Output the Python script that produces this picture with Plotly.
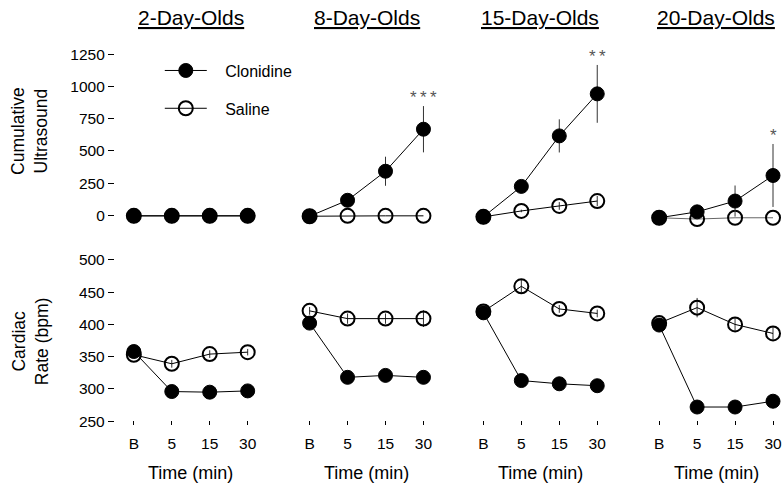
import plotly.graph_objects as go

W, H = 783, 487

times = ["B", "5", "15", "30"]
ages = ["2-Day-Olds", "8-Day-Olds", "15-Day-Olds", "20-Day-Olds"]

# Cumulative ultrasound (top row)
us_clon = [[-5, -5, -5, -5], [-8, 116, 342, 669], [-13, 224, 617, 944], [-20, 26, 110, 309]]
us_clon_err = [[0, 0, 0, 0], [0, 10, 113, 180], [0, 12, 129, 225], [0, 10, 121, 245]]
us_sal = [[-5, -5, -5, -5], [-8, -5, -5, -5], [-13, 33, 72, 110], [-20, -30, -20, -20]]
us_sal_err = [[0, 0, 0, 0], [0, 0, 0, 0], [0, 10, 30, 40], [0, 0, 0, 0]]
sig_labels = ["", "*\u2009*\u2009*", "*\u2009*", "*"]

# Cardiac rate (bottom row)
hr_clon = [[358, 296, 295, 297], [402, 318, 321, 318], [418, 313, 308, 305], [399, 272, 272, 281]]
hr_clon_err = [[5, 5, 5, 5], [6, 5, 5, 5], [5, 5, 5, 5], [6, 5, 5, 5]]
hr_sal = [[353, 339, 354, 357], [421, 409, 409, 409], [420, 459, 424, 417], [402, 426, 400, 386]]
hr_sal_err = [[5, 6, 6, 5], [6, 8, 8, 13], [5, 10, 6, 6], [6, 15, 10, 10]]

us_ticks = [0, 250, 500, 750, 1000, 1250]
hr_ticks = [250, 300, 350, 400, 450, 500]

FONT = "Liberation Sans, Arial, Helvetica, sans-serif"
PAD = "\u00a0\u00a0\u00a0"

def px(x):
    return x / W

def py(y):
    return 1 - y / H

b_px = [134, 310, 484, 660]
step = 38.0
xr = [-0.5, 3.2]

top_range = [-150, 1300]
bot_range = [240, 520]
top_dom = [py(234.4), py(46.5)]
bot_dom = [py(429.2), py(247)]

fig = go.Figure()

for i in range(4):
    xt = "x" if i == 0 else f"x{i+1}"
    yt = "y" if i == 0 else f"y{i+1}"
    xb = f"x{i+5}"
    yb = f"y{i+5}"
    sal_line = "#666" if i == 3 else "black"
    # top: saline then clonidine
    fig.add_trace(go.Scatter(
        x=times, y=us_sal[i], xaxis=xt, yaxis=yt, mode="lines+markers",
        name=PAD + "Saline", legendgroup="sal", legendrank=2, showlegend=(i == 0),
        line=dict(color=sal_line, width=1),
        marker=dict(symbol="circle-open", size=14, color="black", line=dict(width=2, color="black")),
        error_y=dict(type="data", array=us_sal_err[i], visible=True, thickness=1, width=0, color="#333"),
        cliponaxis=False,
    ))
    fig.add_trace(go.Scatter(
        x=times, y=us_clon[i], xaxis=xt, yaxis=yt, mode="lines+markers",
        name=PAD + "Clonidine", legendgroup="clon", legendrank=1, showlegend=(i == 0),
        line=dict(color="black", width=1),
        marker=dict(symbol="circle", size=14, color="black", line=dict(width=1, color="black")),
        error_y=dict(type="data", array=us_clon_err[i], visible=True, thickness=1, width=0, color="#333"),
        cliponaxis=False,
    ))
    # bottom
    fig.add_trace(go.Scatter(
        x=times, y=hr_sal[i], xaxis=xb, yaxis=yb, mode="lines+markers",
        name="Saline", legendgroup="sal", showlegend=False,
        line=dict(color="black", width=1),
        marker=dict(symbol="circle-open", size=14, color="black", line=dict(width=2, color="black")),
        error_y=dict(type="data", array=hr_sal_err[i], visible=True, thickness=1, width=0, color="#333"),
        cliponaxis=False,
    ))
    fig.add_trace(go.Scatter(
        x=times, y=hr_clon[i], xaxis=xb, yaxis=yb, mode="lines+markers",
        name="Clonidine", legendgroup="clon", showlegend=False,
        line=dict(color="black", width=1),
        marker=dict(symbol="circle", size=14, color="black", line=dict(width=1, color="black")),
        error_y=dict(type="data", array=hr_clon_err[i], visible=True, thickness=1, width=0, color="#333"),
        cliponaxis=False,
    ))

    dom = [px(b_px[i] - 0.5 * step), px(b_px[i] + 3.2 * step)]
    common_x = dict(domain=dom, range=xr, type="category", categoryorder="array",
                    categoryarray=times, showgrid=False, zeroline=False, showline=False)
    key_t = "xaxis" if i == 0 else f"xaxis{i+1}"
    fig.layout[key_t] = dict(common_x, anchor=yt, showticklabels=False, ticks="")
    fig.layout[f"xaxis{i+5}"] = dict(
        common_x, anchor="free", position=py(421.5), ticks="outside", ticklen=4,
        tickwidth=1, tickcolor="black", showticklabels=True, ticklabelstandoff=5,
        tickfont=dict(family=FONT, size=15.5, color="black"))

    ykey_t = "yaxis" if i == 0 else f"yaxis{i+1}"
    common_y = dict(showgrid=False, zeroline=False, showline=False)
    if i == 0:
        fig.layout[ykey_t] = dict(common_y, domain=top_dom, range=top_range, anchor="free",
                                  position=px(114), tickvals=us_ticks, ticks="outside",
                                  ticklen=6, tickwidth=1, tickcolor="black",
                                  tickfont=dict(family=FONT, size=15.5, color="black"))
        fig.layout[f"yaxis{i+5}"] = dict(common_y, domain=bot_dom, range=bot_range, anchor="free",
                                         position=px(114), tickvals=hr_ticks, ticks="outside",
                                         ticklen=6, tickwidth=1, tickcolor="black",
                                         tickfont=dict(family=FONT, size=15.5, color="black"))
    else:
        fig.layout[ykey_t] = dict(common_y, domain=top_dom, range=top_range, anchor=xt,
                                  showticklabels=False, ticks="")
        fig.layout[f"yaxis{i+5}"] = dict(common_y, domain=bot_dom, range=bot_range, anchor=xb,
                                         showticklabels=False, ticks="")

    center = b_px[i] + 1.5 * step
    fig.add_annotation(text=f"<u>{ages[i]}</u>", x=px(center), y=py(16), xref="paper", yref="paper",
                       showarrow=False, xanchor="center", yanchor="middle",
                       font=dict(family=FONT, size=21, color="black"))
    fig.add_annotation(text="Time (min)", x=px(center), y=py(475), xref="paper", yref="paper",
                       showarrow=False, xanchor="center", yanchor="middle",
                       font=dict(family=FONT, size=18, color="black"))
    if sig_labels[i]:
        fig.add_annotation(text=sig_labels[i], x=times.index("30"),
                           y=us_clon[i][3] + us_clon_err[i][3],
                           xref=xt, yref=yt, showarrow=False, xanchor="center", yanchor="bottom",
                           yshift=-3, font=dict(family=FONT, size=17, color="#555"))

fig.add_annotation(text="Cumulative<br>Ultrasound", x=px(30), y=py(130), xref="paper", yref="paper",
                   showarrow=False, textangle=-90, xanchor="center", yanchor="middle",
                   font=dict(family=FONT, size=17.5, color="black"))
fig.add_annotation(text="Cardiac<br>Rate (bpm)", x=px(30), y=py(342), xref="paper", yref="paper",
                   showarrow=False, textangle=-90, xanchor="center", yanchor="middle",
                   font=dict(family=FONT, size=17.5, color="black"))

fig.update_layout(
    width=W, height=H, margin=dict(l=0, r=0, t=0, b=0),
    paper_bgcolor="white", plot_bgcolor="white",
    showlegend=True,
    legend=dict(x=px(160), y=py(52), xanchor="left", yanchor="top", bgcolor="rgba(0,0,0,0)",
                tracegroupgap=14, itemwidth=42,
                font=dict(family=FONT, size=16, color="black")),
)

fig.write_html("out.html", config={"displayModeBar": False},
               post_script="document.body.style.margin='0';document.body.style.overflow='hidden';")
